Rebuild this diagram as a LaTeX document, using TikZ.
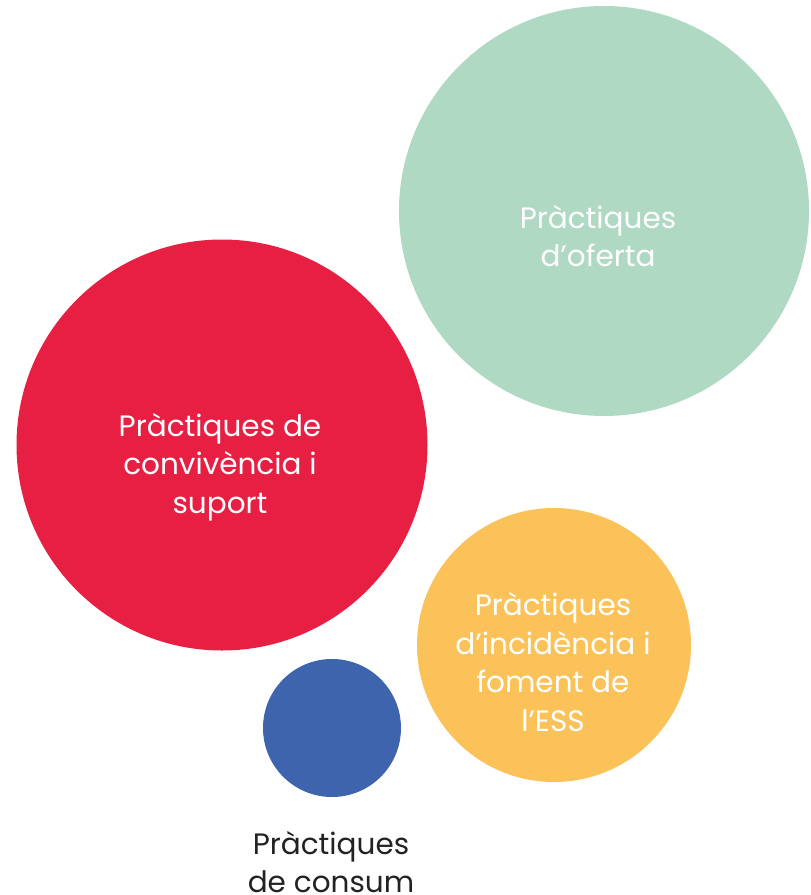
\documentclass[tikz,border=0pt]{standalone}
\usepackage{fontspec}
\setmainfont{Poppins}
\definecolor{ofertagreen}{HTML}{AFD9C3}
\definecolor{suportred}{HTML}{E61F43}
\definecolor{incidenciayellow}{HTML}{FCC25A}
\definecolor{consumblue}{HTML}{3D64AD}
\definecolor{labelgray}{HTML}{222222}
\begin{document}
\begin{tikzpicture}[
  x=1pt, y=-1pt,
  bubble/.style={
    circle,
    inner sep=0pt,
    draw=none
  },
  bubble_text/.style={
    align=center,
    text=white,
    font=\fontsize{29.5}{38.5}\selectfont
  },
  outer_text/.style={
    bubble_text,
    text=labelgray
  }
]%
\useasboundingbox (0,0) rectangle (811,895);
\node [bubble, fill=ofertagreen, minimum size=410] (oferta) at (604,211) {};
\node [bubble, fill=suportred, minimum size=411] (suport) at (222,445) {};
\node [bubble, fill=incidenciayellow, minimum size=274] (incidencia) at (554,645) {};
\node [bubble, fill=consumblue, minimum size=138] (consum) at (332,728) {};
\node [bubble_text] (oferta_text) at (598,236) {Pràctiques\\d’oferta};
\node [bubble_text] (suport_text) at (220,467) {Pràctiques de\\convivència i\\suport};
\node [bubble_text] (incidencia_text) at (553,662) {Pràctiques\\d’incidència i\\foment de\\l’ESS};
\node [outer_text] (consum_text) at (331,862) {Pràctiques\\de consum};
\end{tikzpicture}
\end{document}
